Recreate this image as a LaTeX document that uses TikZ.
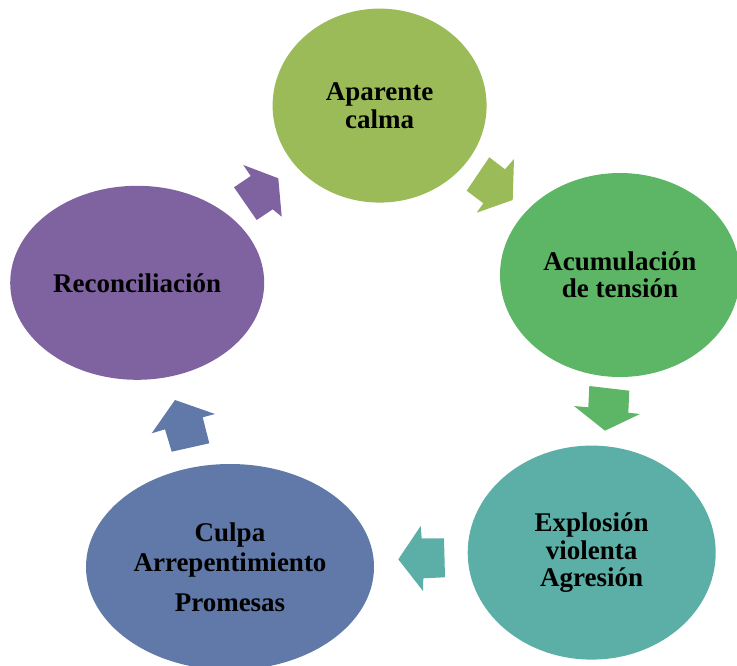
\documentclass[tikz,border=0pt]{standalone}
\usepackage{fontspec}
\setmainfont{Liberation Serif}
\usetikzlibrary{shapes.geometric}
\definecolor{ccalma}{HTML}{9BBB59}
\definecolor{ctension}{HTML}{5DB566}
\definecolor{cexpl}{HTML}{5CAFA6}
\definecolor{cculpa}{HTML}{6079A9}
\definecolor{crecon}{HTML}{7F63A1}
\tikzset{
  phase/.style={ellipse, inner sep=0pt, align=center, text=black,
    font=\bfseries\fontsize{27}{27.5}\selectfont}
}
\begin{document}
\begin{tikzpicture}[x=1pt,y=-1pt]
\useasboundingbox (0,0) rectangle (737,666);
\node[phase, fill=ccalma, minimum width=214pt, minimum height=194pt] (calma) at (379.6,105.6) {Aparente\\calma};
\node[phase, fill=ctension, minimum width=240pt, minimum height=204pt] (tension) at (620,275) {Acumulación\\de tensión};
\node[phase, fill=cexpl, minimum width=248pt, minimum height=214pt] (expl) at (591.7,552.6) {Explosión\\violenta\\Agresión};
\node[phase, fill=cculpa, minimum width=288pt, minimum height=206pt,
  font=\bfseries\fontsize{27}{30}\selectfont] (culpa) at (230,567) {Culpa\\Arrepentimiento\\[10pt]Promesas};
\node[phase, fill=crecon, minimum width=254pt, minimum height=194pt] (recon) at (137.2,282.8) {Reconciliación};
% block arrows
\fill[ccalma] (466.7,190.7) -- (489.3,157.3) -- (505,169.3) -- (514,159) -- (512.7,200) -- (476.7,212.7) -- (483.3,203.3) -- cycle;
\fill[ctension] (589.3,386) -- (629.3,390.7) -- (628.3,412.7) -- (640,414) -- (605,430.7) -- (574,406) -- (588.3,407.3) -- cycle;
\fill[cexpl] (444,538.3) -- (445,577.3) -- (423.3,578.3) -- (423,591) -- (398.3,559.3) -- (420.7,526) -- (421.7,538.3) -- cycle;
\fill[cculpa] (209.3,443.3) -- (171.7,451.7) -- (165,429.3) -- (151.7,433.3) -- (175,400) -- (215,414) -- (202.7,417.3) -- cycle;
\fill[crecon] (256.7,220) -- (234,187.3) -- (250.7,176) -- (243.3,165) -- (278.3,178.3) -- (281.7,216.7) -- (272.7,209.3) -- cycle;
\end{tikzpicture}
\end{document}
